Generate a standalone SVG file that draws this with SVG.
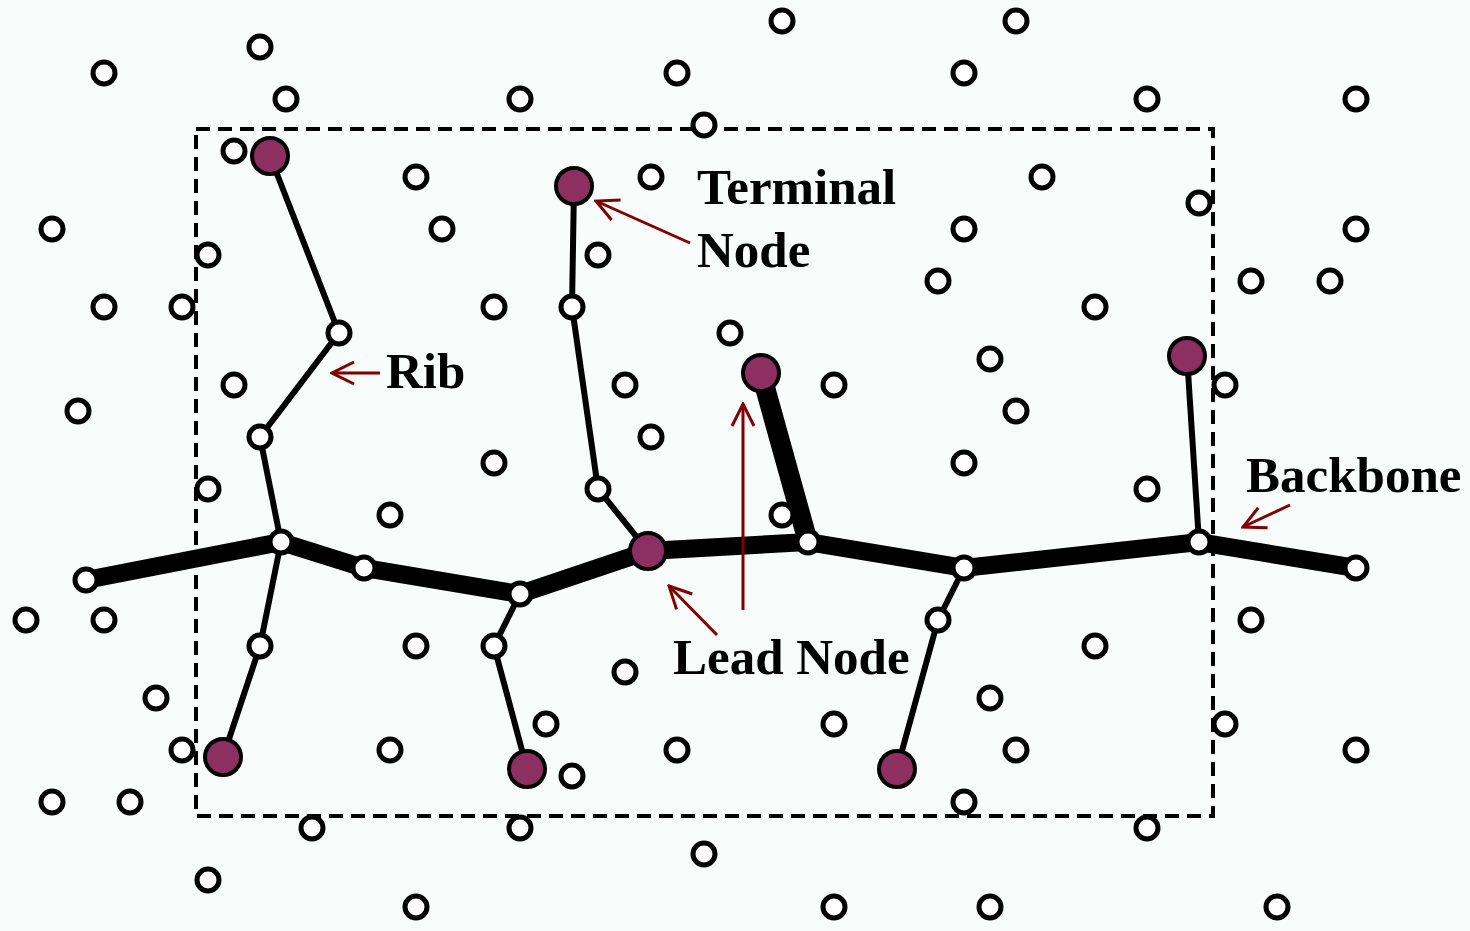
<svg xmlns="http://www.w3.org/2000/svg" width="1470" height="931" viewBox="0 0 1470 931">
<defs>
<style>
.o{fill:#ffffff;stroke:#000;stroke-width:5}
.p{fill:#8e2f62;stroke:#000;stroke-width:4}
.bb{stroke:#000;stroke-width:18;fill:none}
.rib{stroke:#000;stroke-width:6;fill:none}
.arr{stroke:#800000;stroke-width:3;fill:none;marker-end:url(#ah)}
.t{font-family:"Liberation Serif","Times New Roman",serif;font-weight:bold;font-size:51px;fill:#000}
</style>
<marker id="ah" viewBox="0 0 26 26" refX="24" refY="13" markerWidth="26" markerHeight="26" markerUnits="userSpaceOnUse" orient="auto">
<polyline points="2,2 24,13 2,24" fill="none" stroke="#800000" stroke-width="3"/>
</marker>
</defs>
<rect width="1470" height="931" fill="#f8fcfa"/>
<rect id="frame" x="196" y="129" width="1017" height="687" fill="none" stroke="#000" stroke-width="4" stroke-dasharray="14 8"/>
<g id="connectors">
<polyline class="bb" points="86,580 281,542 364,568 520,594 648,551 808,542 964,568 1199,542 1356,568"/>
<line x1="808" y1="542" x2="761" y2="373" stroke="#000" stroke-width="20"/>
<polyline class="rib" points="270,156 339,333 260,437 281,542 260,646 223,757"/>
<polyline class="rib" points="574,186 572,307 598,489 648,551"/>
<polyline class="rib" points="520,594 494,646 527,769"/>
<polyline class="rib" points="964,568 938,620 897,769"/>
<line class="rib" x1="1199" y1="542" x2="1187" y2="356"/>
<line class="arr" x1="690" y1="243" x2="596" y2="201"/>
<line class="arr" x1="380" y1="373" x2="332" y2="373"/>
<line class="arr" x1="717" y1="635" x2="669" y2="586"/>
<line class="arr" x1="743" y1="610" x2="743" y2="404"/>
<line class="arr" x1="1290" y1="505" x2="1243" y2="527"/>
</g>
<g id="free-nodes">
<circle class="o" cx="782" cy="21" r="11"/><circle class="o" cx="1016" cy="21" r="11"/>
<circle class="o" cx="260" cy="47" r="11"/>
<circle class="o" cx="104" cy="73" r="11"/><circle class="o" cx="677" cy="73" r="11"/><circle class="o" cx="964" cy="73" r="11"/>
<circle class="o" cx="286" cy="99" r="11"/><circle class="o" cx="520" cy="99" r="11"/><circle class="o" cx="1147" cy="99" r="11"/><circle class="o" cx="1356" cy="99" r="11"/>
<circle class="o" cx="704" cy="125" r="11"/>
<circle class="o" cx="234" cy="151" r="11"/><circle class="o" cx="416" cy="177" r="11"/><circle class="o" cx="651" cy="177" r="11"/><circle class="o" cx="1042" cy="177" r="11"/>
<circle class="o" cx="1199" cy="203" r="11"/>
<circle class="o" cx="52" cy="229" r="11"/><circle class="o" cx="442" cy="229" r="11"/><circle class="o" cx="964" cy="229" r="11"/><circle class="o" cx="1356" cy="229" r="11"/>
<circle class="o" cx="208" cy="255" r="11"/><circle class="o" cx="598" cy="255" r="11"/>
<circle class="o" cx="938" cy="281" r="11"/><circle class="o" cx="1251" cy="281" r="11"/><circle class="o" cx="1330" cy="281" r="11"/>
<circle class="o" cx="104" cy="307" r="11"/><circle class="o" cx="182" cy="307" r="11"/><circle class="o" cx="494" cy="307" r="11"/><circle class="o" cx="1095" cy="307" r="11"/>
<circle class="o" cx="730" cy="333" r="11"/>
<circle class="o" cx="990" cy="359" r="11"/>
<circle class="o" cx="234" cy="385" r="11"/><circle class="o" cx="625" cy="385" r="11"/><circle class="o" cx="834" cy="385" r="11"/><circle class="o" cx="1225" cy="385" r="11"/>
<circle class="o" cx="78" cy="411" r="11"/><circle class="o" cx="1016" cy="411" r="11"/>
<circle class="o" cx="651" cy="437" r="11"/>
<circle class="o" cx="494" cy="463" r="11"/><circle class="o" cx="964" cy="463" r="11"/>
<circle class="o" cx="208" cy="489" r="11"/><circle class="o" cx="1147" cy="489" r="11"/>
<circle class="o" cx="390" cy="515" r="11"/><circle class="o" cx="782" cy="515" r="11"/>
<circle class="o" cx="26" cy="620" r="11"/><circle class="o" cx="104" cy="620" r="11"/><circle class="o" cx="1251" cy="620" r="11"/>
<circle class="o" cx="416" cy="646" r="11"/><circle class="o" cx="1095" cy="646" r="11"/>
<circle class="o" cx="625" cy="672" r="11"/>
<circle class="o" cx="156" cy="698" r="11"/><circle class="o" cx="990" cy="698" r="11"/>
<circle class="o" cx="546" cy="724" r="11"/><circle class="o" cx="834" cy="724" r="11"/><circle class="o" cx="1225" cy="724" r="11"/>
<circle class="o" cx="182" cy="750" r="11"/><circle class="o" cx="390" cy="750" r="11"/><circle class="o" cx="677" cy="750" r="11"/><circle class="o" cx="1016" cy="750" r="11"/><circle class="o" cx="1356" cy="750" r="11"/>
<circle class="o" cx="572" cy="776" r="11"/>
<circle class="o" cx="52" cy="802" r="11"/><circle class="o" cx="130" cy="802" r="11"/><circle class="o" cx="964" cy="802" r="11"/>
<circle class="o" cx="312" cy="828" r="11"/><circle class="o" cx="520" cy="828" r="11"/><circle class="o" cx="1147" cy="828" r="11"/>
<circle class="o" cx="704" cy="854" r="11"/>
<circle class="o" cx="208" cy="880" r="11"/>
<circle class="o" cx="416" cy="907" r="11"/><circle class="o" cx="834" cy="907" r="11"/><circle class="o" cx="990" cy="907" r="11"/><circle class="o" cx="1277" cy="907" r="11"/>
</g>
<g id="tree-nodes">
<circle class="o" cx="86" cy="580" r="11"/>
<circle class="o" cx="281" cy="542" r="11"/>
<circle class="o" cx="364" cy="568" r="11"/>
<circle class="o" cx="520" cy="594" r="11"/>
<circle class="o" cx="808" cy="542" r="11"/>
<circle class="o" cx="964" cy="568" r="11"/>
<circle class="o" cx="1199" cy="542" r="11"/>
<circle class="o" cx="1356" cy="568" r="11"/>
<circle class="o" cx="339" cy="333" r="11"/>
<circle class="o" cx="260" cy="437" r="11"/>
<circle class="o" cx="260" cy="646" r="11"/>
<circle class="o" cx="572" cy="307" r="11"/>
<circle class="o" cx="598" cy="489" r="11"/>
<circle class="o" cx="494" cy="646" r="11"/>
<circle class="o" cx="938" cy="620" r="11"/>
</g>
<g id="terminal-nodes">
<circle class="p" cx="270" cy="156" r="18"/>
<circle class="p" cx="574" cy="186" r="18"/>
<circle class="p" cx="761" cy="373" r="18"/>
<circle class="p" cx="1187" cy="356" r="18"/>
<circle class="p" cx="648" cy="551" r="18"/>
<circle class="p" cx="223" cy="757" r="18"/>
<circle class="p" cx="527" cy="769" r="18"/>
<circle class="p" cx="897" cy="769" r="18"/>
</g>
<g id="labels">
<text class="t" x="697" y="204">Terminal</text>
<text class="t" x="697" y="267">Node</text>
<text class="t" x="386" y="388">Rib</text>
<text class="t" x="673" y="674">Lead Node</text>
<text class="t" x="1246" y="492">Backbone</text>
</g>
</svg>
